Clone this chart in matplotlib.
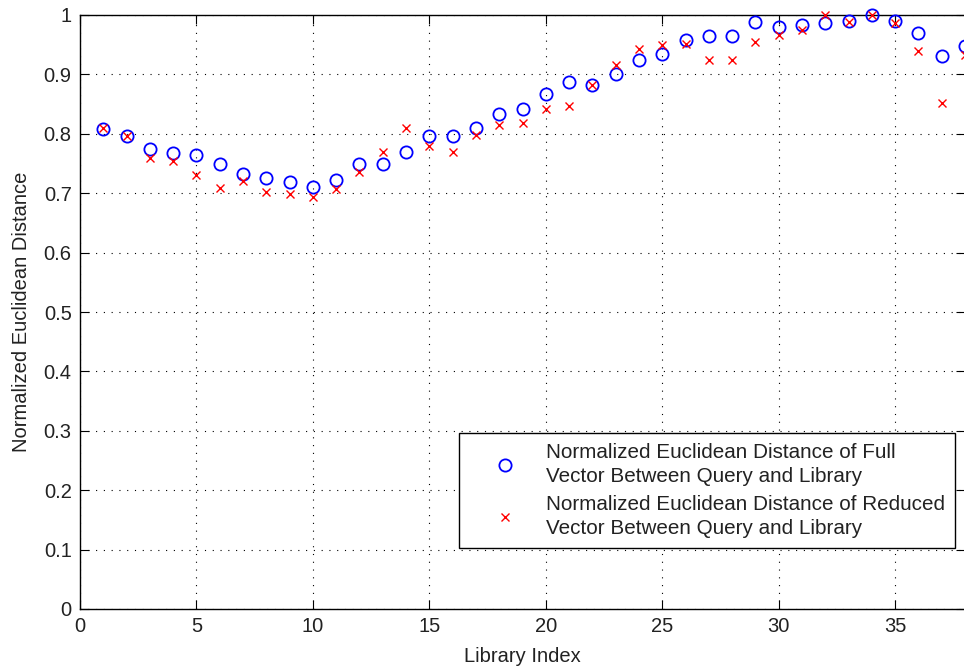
import matplotlib
matplotlib.use("Agg")
import matplotlib.pyplot as plt
import numpy as np

plt.rcParams['font.family'] = ['Liberation Sans', 'DejaVu Sans']

library_index = list(range(1, 39))
full_vector = [0.808, 0.796, 0.774, 0.767, 0.764, 0.750, 0.732, 0.726, 0.719, 0.710,
               0.723, 0.750, 0.749, 0.769, 0.796, 0.796, 0.810, 0.834, 0.842, 0.867,
               0.887, 0.882, 0.901, 0.925, 0.934, 0.958, 0.964, 0.964, 0.989, 0.980,
               0.983, 0.986, 0.990, 1.000, 0.990, 0.969, 0.931, 0.948]
reduced_vector = [0.809, 0.796, 0.760, 0.755, 0.731, 0.709, 0.720, 0.702, 0.699, 0.693,
                  0.707, 0.735, 0.769, 0.809, 0.779, 0.769, 0.798, 0.814, 0.818, 0.842,
                  0.847, 0.882, 0.916, 0.942, 0.949, 0.951, 0.925, 0.925, 0.955, 0.966,
                  0.975, 1.000, 0.988, 1.000, 0.987, 0.939, 0.852, 0.933]
label_full = "Normalized Euclidean Distance of Full\nVector Between Query and Library"
label_reduced = "Normalized Euclidean Distance of Reduced\nVector Between Query and Library"
x_ticks = [0, 5, 10, 15, 20, 25, 30, 35]
y_ticks = [0, 0.1, 0.2, 0.3, 0.4, 0.5, 0.6, 0.7, 0.8, 0.9, 1]
y_tick_labels = ["0", "0.1", "0.2", "0.3", "0.4", "0.5", "0.6", "0.7", "0.8", "0.9", "1"]

W, H = 964, 668
fig = plt.figure(figsize=(W / 100, H / 100), dpi=100)
left, right, top, bottom = 80, 965, 15, 609
ax = fig.add_axes([left / W, (H - bottom) / H, (right - left) / W, (bottom - top) / H])

ax.plot(library_index, full_vector, linestyle='none', marker='o', markersize=8.8,
        markerfacecolor='none', markeredgecolor=(0, 0, 1), markeredgewidth=1.3,
        label=label_full, clip_on=False, zorder=3)
ax.plot(library_index, reduced_vector, linestyle='none', marker='x', markersize=5.5,
        markeredgecolor=(1, 0, 0), markeredgewidth=1.0,
        label=label_reduced, clip_on=False, zorder=4)

ax.set_xlim(0, 38)
ax.set_ylim(0, 1)
ax.set_xticks(x_ticks)
ax.set_xticklabels([str(t) for t in x_ticks])
ax.set_yticks(y_ticks)
ax.set_yticklabels(y_tick_labels)

ax.grid(True, color='black', linestyle=(0, (1, 6)), linewidth=0.8)
ax.set_axisbelow(True)
ax.tick_params(direction='in', length=6.5, width=0.8, top=True, right=True,
               labelsize=14.5, colors='black', labelcolor='#222222', pad=6)
for s in ax.spines.values():
    s.set_linewidth(1.0)
    s.set_color('black')

ax.set_xlabel("Library Index", fontsize=14.5, color='#222222', labelpad=8)
ax.set_ylabel("Normalized Euclidean Distance", fontsize=14.5, color='#222222', labelpad=9)

leg = ax.legend(loc='lower right', bbox_to_anchor=((955 - left) / (right - left), (609 - 548) / (bottom - top)),
                fontsize=14.9, frameon=True, fancybox=False, edgecolor='black',
                framealpha=1, borderpad=0.5, handletextpad=0.2, handlelength=3.5,
                labelspacing=0.45, borderaxespad=0)
leg.get_frame().set_linewidth(1.0)
for t in leg.get_texts():
    t.set_color('#222222')
    t.set_linespacing(1.3)

fig.savefig("out.png", dpi=100)
